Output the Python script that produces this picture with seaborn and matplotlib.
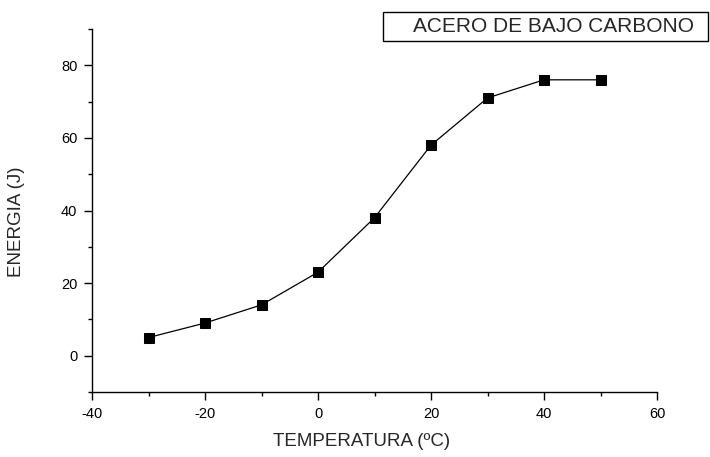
import matplotlib
matplotlib.use("Agg")
import matplotlib.pyplot as plt
import seaborn as sns
import pandas as pd
from matplotlib.patches import Rectangle
from matplotlib.ticker import MultipleLocator

# Data
temperature = [-30, -20, -10, 0, 10, 20, 30, 40, 50]
energy = [5, 9, 14, 23, 38, 58, 71, 76, 76]
series_name = "ACERO DE BAJO CARBONO"
x_label = "TEMPERATURA (ºC)"
y_label = "ENERGIA (J)"

df = pd.DataFrame({"T": temperature, "E": energy})

sns.set_style("ticks")
plt.rcParams["font.family"] = ["Liberation Sans", "DejaVu Sans"]
plt.rcParams["axes.unicode_minus"] = False

fig = plt.figure(figsize=(7.1, 4.57), dpi=100)
ax = fig.add_axes([92/710, 1-392/457, (657-92)/710, (392-29)/457])

sns.lineplot(data=df, x="T", y="E", ax=ax, color="black", linewidth=0.9,
             marker="s", markersize=6.8, markeredgecolor="black",
             markerfacecolor="black")

ax.set_xlim(-40, 60)
ax.set_ylim(-10, 90)
ax.xaxis.set_major_locator(MultipleLocator(20))
ax.xaxis.set_minor_locator(MultipleLocator(10))
ax.yaxis.set_major_locator(MultipleLocator(20))
ax.yaxis.set_minor_locator(MultipleLocator(10))
ax.set_yticks([0, 20, 40, 60, 80])

for s in ["top", "right"]:
    ax.spines[s].set_visible(False)
for s in ["left", "bottom"]:
    ax.spines[s].set_color("black")
    ax.spines[s].set_linewidth(1.0)

ax.tick_params(which="major", direction="out", length=5.5, width=1.0,
               colors="black", labelsize=10.5, pad=5)
ax.tick_params(which="minor", direction="out", length=3, width=1.0,
               colors="black")

ax.set_xlabel(x_label, fontsize=13.5)
ax.set_ylabel(y_label, fontsize=13.5)
ax.xaxis.set_label_coords((362-92)/565, -41/363)
ax.yaxis.set_label_coords((25-92)/565, 0.47)

# Legend-like box
fig.patches.append(Rectangle((383/710, 1-41/457), (708-383)/710, 29/457,
                             transform=fig.transFigure, fill=False,
                             edgecolor="black", linewidth=1.0))
fig.text(413/710, 1-27/457, series_name, fontsize=15, va="center", ha="left")

fig.savefig("out.png", dpi=100)
